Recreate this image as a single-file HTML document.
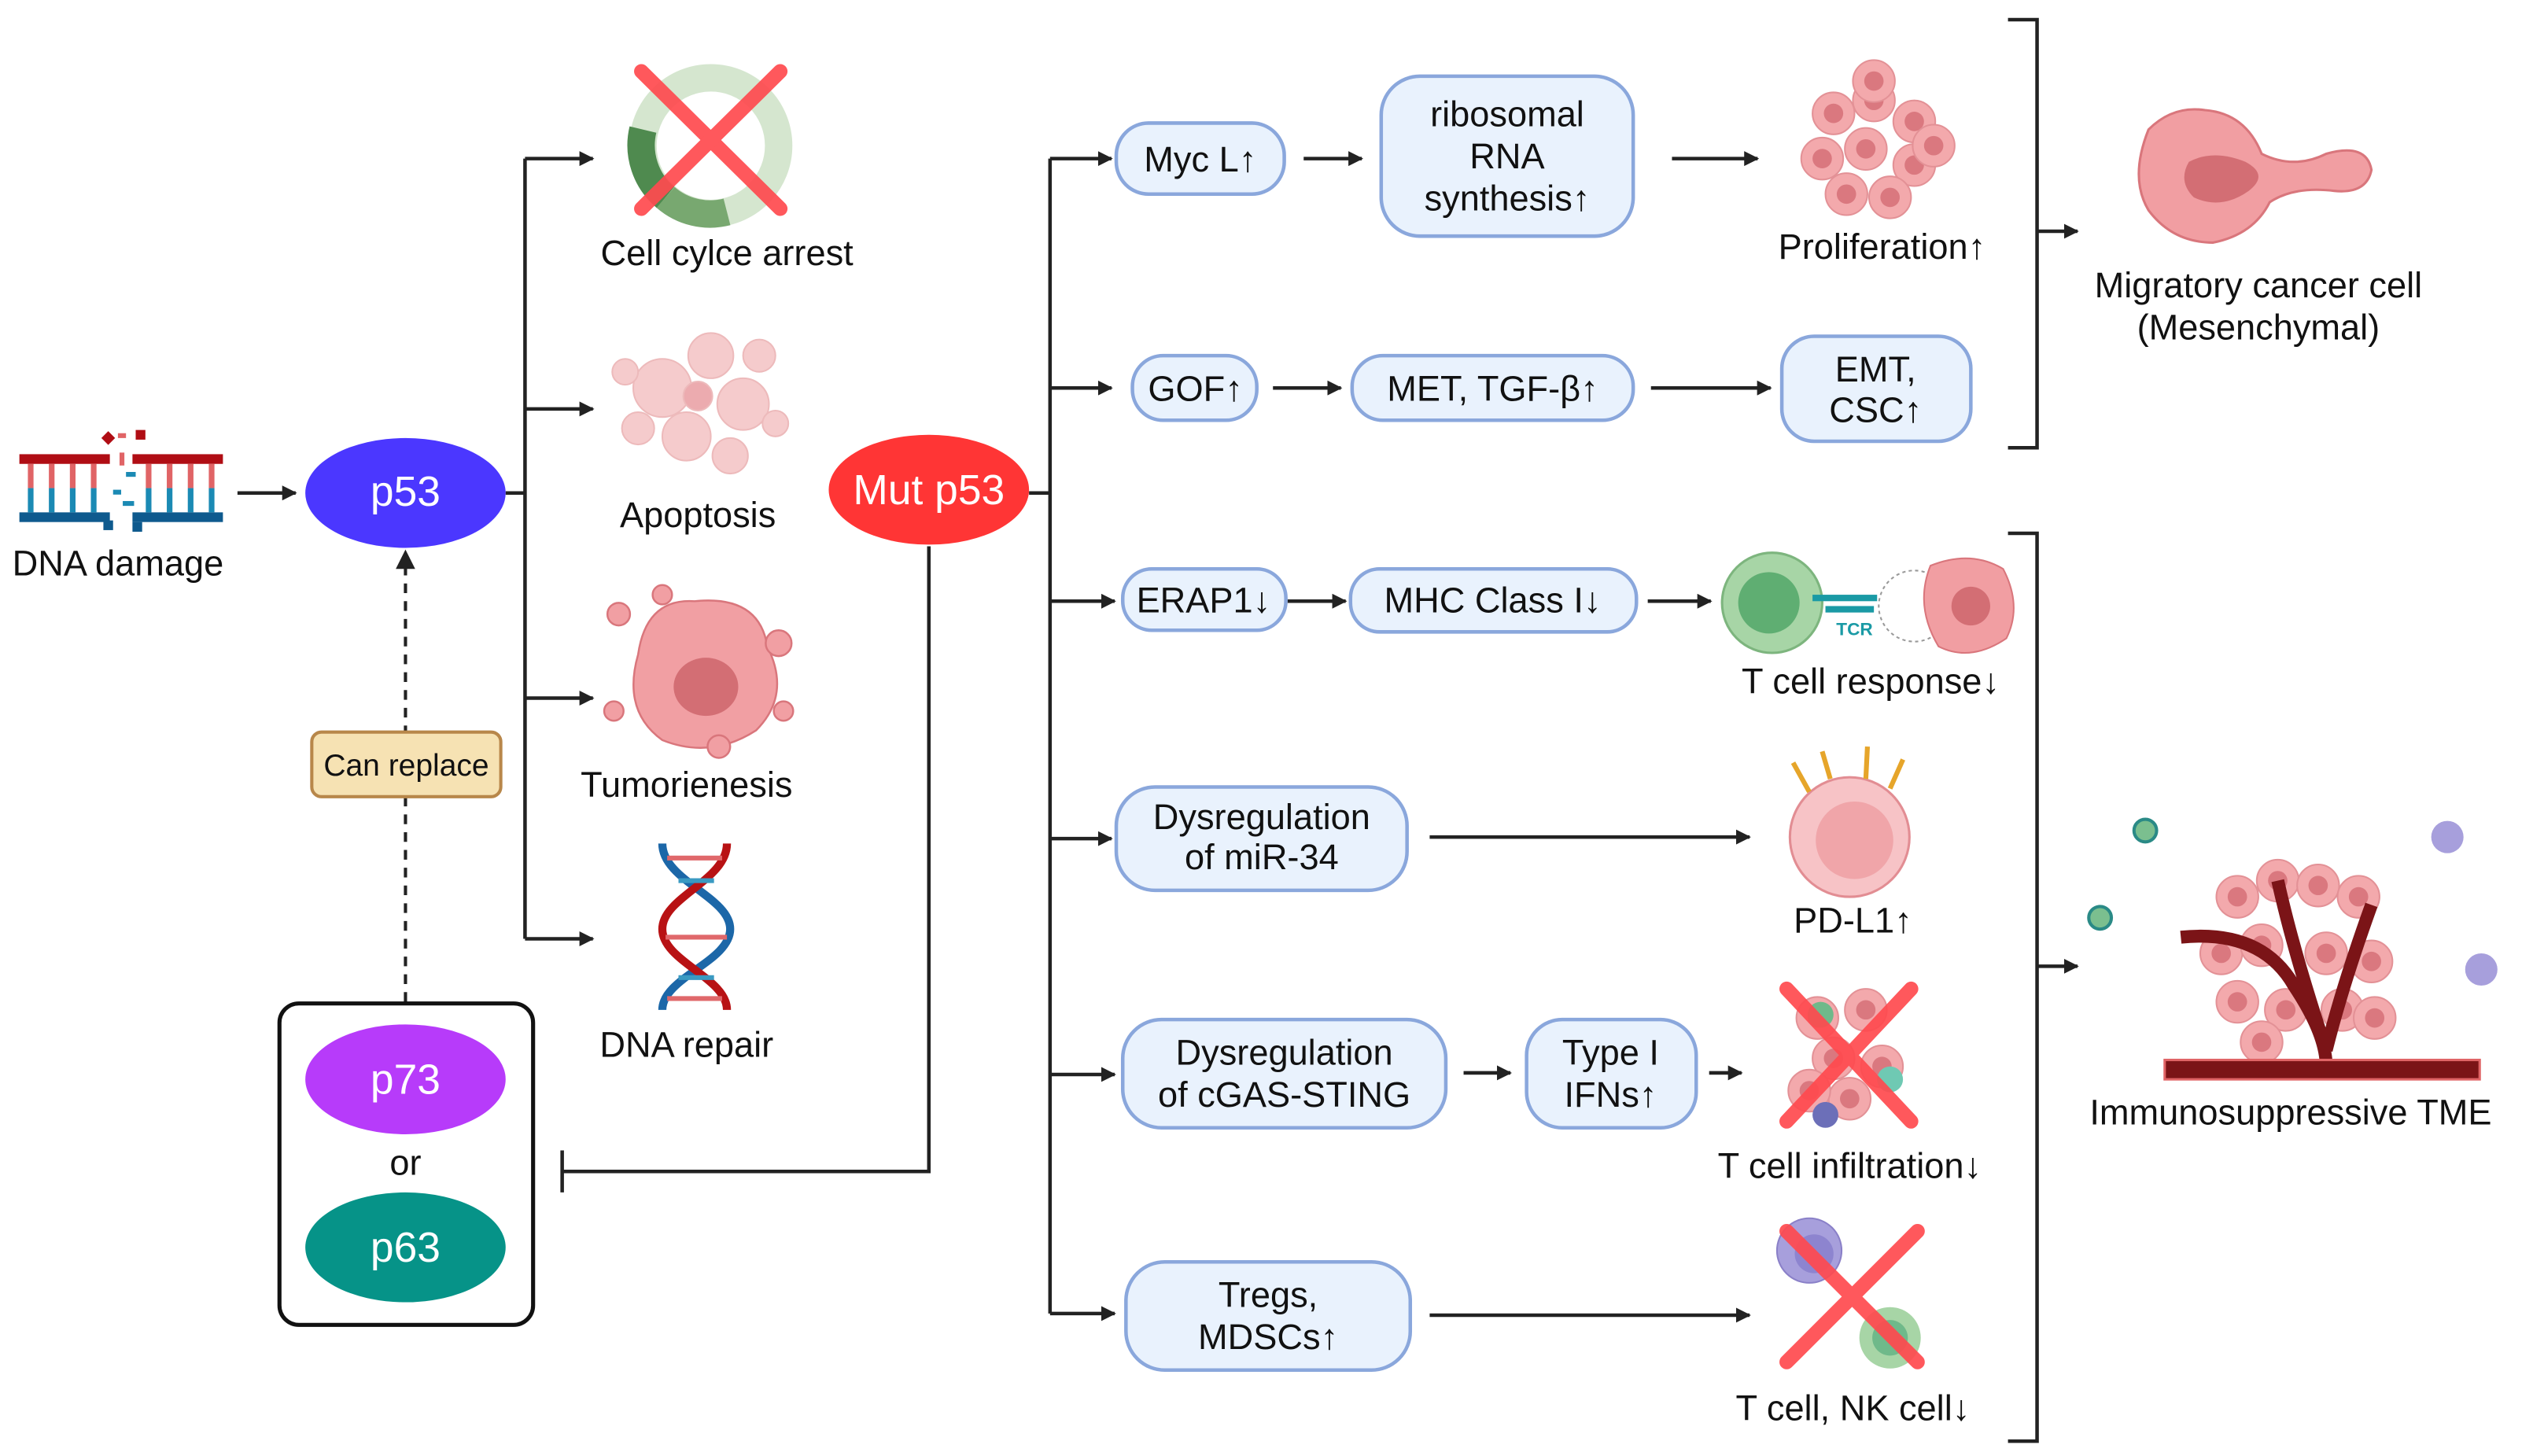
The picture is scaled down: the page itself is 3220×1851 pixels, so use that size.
<!DOCTYPE html>
<html><head><meta charset="utf-8"><style>
html,body{margin:0;padding:0;background:#fff;}
svg{display:block;}
text{font-family:"Liberation Sans Narrow","Liberation Sans",sans-serif;fill:#111;}
</style></head><body>
<svg width="3220" height="1851" viewBox="0 0 1568 901" xmlns="http://www.w3.org/2000/svg">
<defs>
<marker id="ah" viewBox="0 0 10 10" refX="9" refY="5" markerWidth="4.2" markerHeight="4.2" orient="auto" markerUnits="strokeWidth"><path d="M0,0 L10,5 L0,10 z" fill="#222"/></marker>
<g id="pcell"><circle r="13" fill="#f2a0a4" stroke="#e0868b" stroke-width="1"/><circle r="6" fill="#d76a72"/></g>
</defs>
<g stroke="#222" stroke-width="2.2" fill="none">
<!-- DNA->p53 -->
<line x1="147" y1="305" x2="183" y2="305" marker-end="url(#ah)"/>
<!-- p53 branch -->
<polyline points="313,305 325,305"/>
<line x1="325" y1="98" x2="325" y2="581"/>
<line x1="325" y1="98" x2="367" y2="98" marker-end="url(#ah)"/>
<line x1="325" y1="253" x2="367" y2="253" marker-end="url(#ah)"/>
<line x1="325" y1="432" x2="367" y2="432" marker-end="url(#ah)"/>
<line x1="325" y1="581" x2="367" y2="581" marker-end="url(#ah)"/>
<!-- Mut p53 inhibition -->
<polyline points="575,338 575,725 348,725"/>
<line x1="348" y1="712" x2="348" y2="738"/>
<!-- mut branch -->
<line x1="637" y1="305" x2="650" y2="305"/>
<line x1="650" y1="98" x2="650" y2="813"/>
<line x1="650" y1="98" x2="688" y2="98" marker-end="url(#ah)"/>
<line x1="650" y1="240" x2="688" y2="240" marker-end="url(#ah)"/>
<line x1="650" y1="372" x2="690" y2="372" marker-end="url(#ah)"/>
<line x1="650" y1="519" x2="688" y2="519" marker-end="url(#ah)"/>
<line x1="650" y1="665" x2="690" y2="665" marker-end="url(#ah)"/>
<line x1="650" y1="813" x2="690" y2="813" marker-end="url(#ah)"/>
<!-- row arrows -->
<line x1="807" y1="98" x2="843" y2="98" marker-end="url(#ah)"/>
<line x1="1035" y1="98" x2="1088" y2="98" marker-end="url(#ah)"/>
<line x1="788" y1="240" x2="830" y2="240" marker-end="url(#ah)"/>
<line x1="1022" y1="240" x2="1096" y2="240" marker-end="url(#ah)"/>
<line x1="797" y1="372" x2="833" y2="372" marker-end="url(#ah)"/>
<line x1="1020" y1="372" x2="1059" y2="372" marker-end="url(#ah)"/>
<line x1="885" y1="518" x2="1083" y2="518" marker-end="url(#ah)"/>
<line x1="906" y1="664" x2="935" y2="664" marker-end="url(#ah)"/>
<line x1="1058" y1="664" x2="1078" y2="664" marker-end="url(#ah)"/>
<line x1="885" y1="814" x2="1083" y2="814" marker-end="url(#ah)"/>
<!-- brackets -->
<polyline points="1243,12 1261,12 1261,277 1243,277"/>
<line x1="1261" y1="143" x2="1286" y2="143" marker-end="url(#ah)"/>
<polyline points="1243,330 1261,330 1261,892 1243,892"/>
<line x1="1261" y1="598" x2="1286" y2="598" marker-end="url(#ah)"/>
</g>
<!-- dashed -->
<line x1="251" y1="350" x2="251" y2="620" stroke="#222" stroke-width="2" stroke-dasharray="6,5"/>
<path d="M245,352 L251,340 L257,352 z" fill="#222"/>
<rect x="193" y="453" width="117" height="40" rx="6" fill="#f6e2b3" stroke="#b8874a" stroke-width="2"/>
<text x="251.5" y="480" font-size="19" text-anchor="middle">Can replace</text>
<rect x="173" y="621" width="157" height="199" rx="12" fill="#fff" stroke="#111" stroke-width="2.5"/>
<!-- ellipses -->
<ellipse cx="251" cy="305" rx="62" ry="34" fill="#4b37ff"/>
<text x="251" y="313" font-size="26" text-anchor="middle" style="fill:#fff">p53</text>
<ellipse cx="251" cy="668" rx="62" ry="34" fill="#b73bfa"/>
<text x="251" y="677" font-size="26" text-anchor="middle" style="fill:#fff">p73</text>
<text x="251" y="727" font-size="22" text-anchor="middle">or</text>
<ellipse cx="251" cy="772" rx="62" ry="34" fill="#069388"/>
<text x="251" y="781" font-size="26" text-anchor="middle" style="fill:#fff">p63</text>
<ellipse cx="575" cy="303" rx="62" ry="34" fill="#ff3535"/>
<text x="575" y="312" font-size="26" text-anchor="middle" style="fill:#fff">Mut p53</text>
<!-- DNA damage icon -->
<g>
<rect x="12" y="281" width="56" height="6" fill="#b00d14"/><rect x="82" y="281" width="56" height="6" fill="#b00d14"/>
<rect x="12" y="317" width="56" height="6" fill="#0e5a8e"/><rect x="82" y="317" width="56" height="6" fill="#0e5a8e"/>
<g stroke-width="3.5"><g stroke="#e06466"><line x1="19" y1="287" x2="19" y2="302"/><line x1="32" y1="287" x2="32" y2="302"/><line x1="45" y1="287" x2="45" y2="302"/><line x1="58" y1="287" x2="58" y2="302"/><line x1="92" y1="287" x2="92" y2="302"/><line x1="105" y1="287" x2="105" y2="302"/><line x1="118" y1="287" x2="118" y2="302"/><line x1="131" y1="287" x2="131" y2="302"/></g>
<g stroke="#1b8ab4"><line x1="19" y1="302" x2="19" y2="317"/><line x1="32" y1="302" x2="32" y2="317"/><line x1="45" y1="302" x2="45" y2="317"/><line x1="58" y1="302" x2="58" y2="317"/><line x1="92" y1="302" x2="92" y2="317"/><line x1="105" y1="302" x2="105" y2="317"/><line x1="118" y1="302" x2="118" y2="317"/><line x1="131" y1="302" x2="131" y2="317"/></g></g>
<rect x="64" y="268" width="6" height="6" fill="#b00d14" transform="rotate(45 67 271)"/><rect x="84" y="266" width="6" height="6" fill="#b00d14"/><rect x="73" y="268" width="5" height="3" fill="#e06466"/><rect x="74" y="280" width="3" height="8" fill="#e06466"/><rect x="78" y="292" width="6" height="3" fill="#1b8ab4"/><rect x="70" y="303" width="5" height="3" fill="#1b8ab4"/><rect x="76" y="310" width="7" height="3" fill="#1b8ab4"/><rect x="64" y="322" width="6" height="6" fill="#0e5a8e"/><rect x="82" y="323" width="6" height="6" fill="#0e5a8e"/>
</g>
<text x="73" y="356" font-size="22" text-anchor="middle">DNA damage</text>
<!-- cell cycle -->
<circle cx="440" cy="90" r="42" fill="none" stroke="#d5e6cf" stroke-width="17"/>
<path d="M398,80 A42,42 0 0 0 412,122" fill="none" stroke="#4f8a4f" stroke-width="17"/>
<path d="M412,122 A42,42 0 0 0 450,131" fill="none" stroke="#78a870" stroke-width="17"/>
<g stroke="#ff4a4f" stroke-width="9" stroke-linecap="round" opacity="0.92"><line x1="397" y1="44" x2="483" y2="129"/><line x1="483" y1="44" x2="397" y2="129"/></g>
<text x="450" y="164" font-size="22" text-anchor="middle">Cell cylce arrest</text>
<!-- apoptosis -->
<g fill="#f4c3c4" stroke="#eaaeb0" opacity="0.85">
<circle cx="410" cy="240" r="18"/><circle cx="440" cy="220" r="14"/><circle cx="460" cy="250" r="16"/><circle cx="425" cy="270" r="15"/><circle cx="395" cy="265" r="10"/><circle cx="470" cy="220" r="10"/><circle cx="452" cy="282" r="11"/><circle cx="432" cy="245" r="9" fill="#e99da2"/><circle cx="480" cy="262" r="8"/><circle cx="387" cy="230" r="8"/></g>
<text x="432" y="326" font-size="22" text-anchor="middle">Apoptosis</text>
<!-- tumor -->
<g fill="#f19fa3" stroke="#d9767c" stroke-width="1.2">
<path d="M395,405 Q400,370 430,372 Q470,368 475,400 Q490,430 468,452 Q440,470 410,458 Q385,440 395,405 z"/>
<circle cx="383" cy="380" r="7"/><circle cx="482" cy="398" r="8"/><circle cx="380" cy="440" r="6"/><circle cx="445" cy="462" r="7"/><circle cx="485" cy="440" r="6"/><circle cx="410" cy="368" r="6"/></g>
<ellipse cx="437" cy="425" rx="20" ry="18" fill="#d36e74"/>
<text x="425" y="493" font-size="22" text-anchor="middle">Tumorienesis</text>
<!-- DNA helix -->
<path d="M410,522 C410,545 452,555 452,575 C452,595 410,605 410,625" fill="none" stroke="#1c67a8" stroke-width="5"/>
<path d="M450,522 C450,545 410,555 410,575 C410,595 450,605 450,625" fill="none" stroke="#b81214" stroke-width="5"/>
<g stroke-width="3"><line x1="413" y1="531" x2="447" y2="531" stroke="#e0686b"/><line x1="420" y1="545" x2="442" y2="545" stroke="#3a9ac2"/><line x1="412" y1="580" x2="450" y2="580" stroke="#e0686b"/><line x1="420" y1="605" x2="442" y2="605" stroke="#3a9ac2"/><line x1="413" y1="618" x2="447" y2="618" stroke="#e0686b"/></g>
<text x="425" y="654" font-size="22" text-anchor="middle">DNA repair</text>
<!-- boxes -->
<g fill="#e9f2fd" stroke="#8aa7dc" stroke-width="2.2">
<rect x="691" y="76" width="104" height="44" rx="20"/>
<rect x="855" y="47" width="156" height="99" rx="24"/>
<rect x="701" y="220" width="77" height="40" rx="19"/>
<rect x="837" y="220" width="174" height="40" rx="19"/>
<rect x="1103" y="208" width="117" height="65" rx="20"/>
<rect x="695" y="352" width="101" height="38" rx="18"/>
<rect x="836" y="352" width="177" height="39" rx="18"/>
<rect x="691" y="487" width="180" height="64" rx="24"/>
<rect x="695" y="631" width="200" height="67" rx="24"/>
<rect x="945" y="631" width="105" height="67" rx="22"/>
<rect x="697" y="781" width="176" height="67" rx="24"/>
</g>
<g font-size="22" text-anchor="middle">
<text x="743" y="106">Myc L↑</text>
<text x="933" y="78">ribosomal</text><text x="933" y="104">RNA</text><text x="933" y="130">synthesis↑</text>
<text x="740" y="248">GOF↑</text>
<text x="924" y="248">MET, TGF-β↑</text>
<text x="1161" y="236">EMT,</text><text x="1161" y="261">CSC↑</text>
<text x="745" y="379">ERAP1↓</text>
<text x="924" y="379">MHC Class I↓</text>
<text x="781" y="513">Dysregulation</text><text x="781" y="538">of miR-34</text>
<text x="795" y="659">Dysregulation</text><text x="795" y="685">of cGAS-STING</text>
<text x="997" y="659">Type I</text><text x="997" y="685">IFNs↑</text>
<text x="785" y="809">Tregs,</text><text x="785" y="835">MDSCs↑</text>
</g>
<!-- proliferation -->
<g opacity="0.9">
<use href="#pcell" x="1135" y="70"/><use href="#pcell" x="1160" y="62"/><use href="#pcell" x="1185" y="75"/><use href="#pcell" x="1128" y="98"/><use href="#pcell" x="1155" y="92"/><use href="#pcell" x="1185" y="102"/><use href="#pcell" x="1143" y="120"/><use href="#pcell" x="1170" y="122"/><use href="#pcell" x="1197" y="90"/><use href="#pcell" x="1160" y="50"/></g>
<text x="1165" y="160" font-size="22" text-anchor="middle">Proliferation↑</text>
<!-- migratory -->
<path d="M1330,80 Q1345,65 1365,68 Q1390,70 1400,95 Q1420,105 1440,95 Q1465,88 1468,105 Q1465,120 1445,118 Q1420,115 1405,125 Q1395,145 1370,150 Q1345,150 1330,130 Q1318,110 1330,80 z" fill="#f19ea2" stroke="#d9767c" stroke-width="1.5"/>
<path d="M1355,100 Q1370,92 1390,100 Q1405,108 1392,118 Q1375,130 1358,122 Q1348,112 1355,100 z" fill="#d36e74"/>
<g font-size="22" text-anchor="middle"><text x="1398" y="184">Migratory cancer cell</text><text x="1398" y="210">(Mesenchymal)</text></g>
<!-- T cell response -->
<circle cx="1097" cy="373" r="31" fill="#a7d5a6" stroke="#7db57e" stroke-width="1.5"/>
<circle cx="1095" cy="373" r="19" fill="#5fae72"/>
<rect x="1122" y="368" width="40" height="4" fill="#1a9aa5"/><rect x="1130" y="375" width="30" height="4" fill="#1a9aa5"/>
<text x="1148" y="393" font-size="11" font-weight="bold" text-anchor="middle" style="fill:#1a9aa5">TCR</text>
<circle cx="1185" cy="375" r="22" fill="none" stroke="#999" stroke-dasharray="2,2"/>
<path d="M1195,350 Q1220,340 1240,352 Q1252,375 1242,395 Q1220,410 1200,400 Q1185,375 1195,350 z" fill="#f19ea2" stroke="#d9767c"/>
<circle cx="1220" cy="375" r="12" fill="#d36e74"/>
<text x="1158" y="429" font-size="22" text-anchor="middle">T cell response↓</text>
<!-- PD-L1 -->
<circle cx="1145" cy="518" r="37" fill="#f7c3c6" stroke="#e28d93" stroke-width="1.5"/>
<circle cx="1148" cy="520" r="24" fill="#f0a5a9"/>
<g stroke="#e6a52a" stroke-width="3"><line x1="1120" y1="490" x2="1110" y2="472"/><line x1="1133" y1="482" x2="1128" y2="465"/><line x1="1155" y1="482" x2="1156" y2="462"/><line x1="1170" y1="488" x2="1178" y2="470"/></g>
<text x="1147" y="577" font-size="22" text-anchor="middle">PD-L1↑</text>
<!-- T cell infiltration -->
<g opacity="0.9"><use href="#pcell" x="1125" y="630"/><use href="#pcell" x="1155" y="625"/><use href="#pcell" x="1135" y="655"/><use href="#pcell" x="1165" y="660"/><use href="#pcell" x="1145" y="680"/><use href="#pcell" x="1120" y="675"/></g>
<circle cx="1127" cy="628" r="8" fill="#6fb98a"/><circle cx="1170" cy="668" r="8" fill="#6fc9b3"/><circle cx="1130" cy="690" r="8" fill="#6c6fb8"/>
<g stroke="#ff4a4f" stroke-width="9" stroke-linecap="round" opacity="0.92"><line x1="1106" y1="612" x2="1183" y2="694"/><line x1="1183" y1="612" x2="1106" y2="694"/></g>
<text x="1145" y="729" font-size="22" text-anchor="middle">T cell infiltration↓</text>
<!-- T NK -->
<circle cx="1120" cy="774" r="20" fill="#a79fdc" stroke="#8a80c8"/><circle cx="1123" cy="776" r="12" fill="#8d84cf"/>
<circle cx="1170" cy="828" r="19" fill="#a7d5a6"/><circle cx="1170" cy="828" r="11" fill="#6fb98a"/>
<g stroke="#ff4a4f" stroke-width="9" stroke-linecap="round" opacity="0.92"><line x1="1106" y1="762" x2="1187" y2="843"/><line x1="1187" y1="762" x2="1106" y2="843"/></g>
<text x="1147" y="879" font-size="22" text-anchor="middle">T cell, NK cell↓</text>
<!-- TME -->
<g opacity="0.9"><use href="#pcell" x="1385" y="555"/><use href="#pcell" x="1410" y="545"/><use href="#pcell" x="1435" y="548"/><use href="#pcell" x="1460" y="555"/><use href="#pcell" x="1375" y="590"/><use href="#pcell" x="1400" y="585"/><use href="#pcell" x="1440" y="590"/><use href="#pcell" x="1468" y="595"/><use href="#pcell" x="1385" y="620"/><use href="#pcell" x="1415" y="625"/><use href="#pcell" x="1450" y="625"/><use href="#pcell" x="1470" y="630"/><use href="#pcell" x="1400" y="645"/></g>
<path d="M1350,580 Q1400,575 1420,610 Q1440,640 1440,660 M1410,545 Q1420,590 1440,650 M1468,560 Q1450,610 1440,650" fill="none" stroke="#7b1417" stroke-width="8"/>
<rect x="1340" y="656" width="195" height="12" fill="#7b1417" stroke="#e06466" stroke-width="1.5"/>
<g stroke="#2a8a86" stroke-width="2"><circle cx="1328" cy="514" r="7" fill="#7bbf8f"/><circle cx="1300" cy="568" r="7" fill="#7bbf8f"/></g>
<circle cx="1515" cy="518" r="10" fill="#a79fdc"/><circle cx="1536" cy="600" r="10" fill="#a79fdc"/>
<text x="1418" y="696" font-size="22" text-anchor="middle">Immunosuppressive TME</text>
</svg>
</body></html>
